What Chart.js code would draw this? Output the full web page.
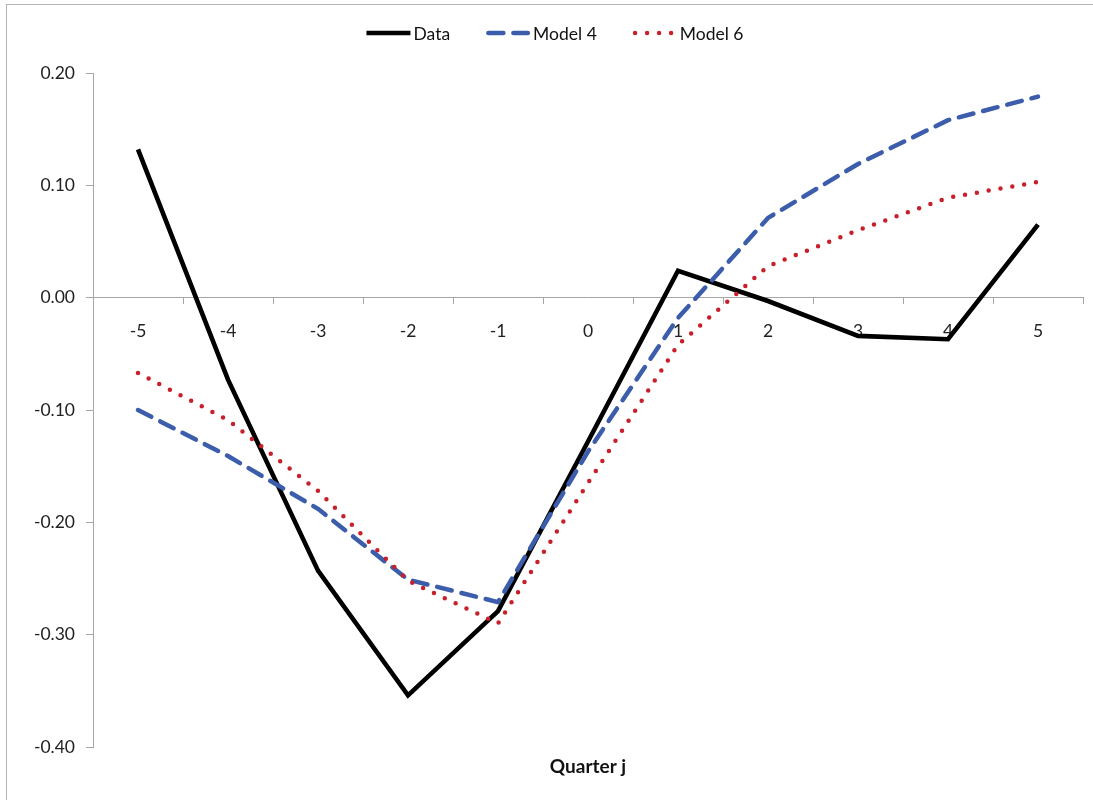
<!DOCTYPE html>
<html>
<head>
<meta charset="utf-8">
<script src="https://cdn.jsdelivr.net/npm/chart.js@4/dist/chart.umd.min.js"></script>
<style>
  html, body { margin: 0; padding: 0; background: #ffffff; }
  #wrap { position: relative; width: 1093px; height: 800px; }
  #frame { position: absolute; left: 6px; top: 4px; right: -2px; bottom: -2px;
           border-left: 1px solid #b4b4b4; border-top: 1px solid #b4b4b4; pointer-events: none; }
  canvas { position: absolute; left: 0; top: 0; }
</style>
</head>
<body>
<div id="wrap">
  <canvas id="chart" width="1093" height="800"></canvas>
  <div id="frame"></div>
</div>
<script>
// Quarter offsets relative to the event quarter
const quarters = ['-5', '-4', '-3', '-2', '-1', '0', '1', '2', '3', '4', '5'];

// Observed response and two model fits
const dataValues   = [0.132, -0.073, -0.243, -0.354, -0.279, -0.128, 0.024, -0.003, -0.034, -0.037, 0.065];
const model4Values = [-0.100, -0.141, -0.188, -0.251, -0.271, -0.137, -0.018, 0.071, 0.119, 0.158, 0.179];
const model6Values = [-0.067, -0.109, -0.172, -0.252, -0.290, -0.165, -0.042, 0.028, 0.060, 0.089, 0.103];

// Value axis ticks
const yTicks = [-0.4, -0.3, -0.2, -0.1, 0.0, 0.1, 0.2];

const seriesNames = ['Data', 'Model 4', 'Model 6'];
const axisTitle = 'Quarter j';

const FONT = 'Lato, "Open Sans", "DejaVu Sans", sans-serif';
const AXIS_GREY = '#a6a6a6';

// Legend drawn along the top, one line sample per series
const topLegend = {
  id: 'topLegend',
  afterDraw(chart) {
    const ctx = chart.ctx;
    ctx.save();
    ctx.font = '17.5px ' + FONT;
    ctx.textBaseline = 'middle';
    ctx.fillStyle = '#111';
    const y = 33;
    const sample = 44, gap = 3, itemGap = 36;
    const items = chart.data.datasets.map(ds => ({ ds, w: ctx.measureText(ds.label).width }));
    const total = items.reduce((s, it) => s + sample + gap + it.w, 0) + itemGap * (items.length - 1);
    let x = 555 - total / 2;
    items.forEach(({ ds, w }) => {
      ctx.save();
      ctx.strokeStyle = ds.borderColor;
      ctx.lineWidth = ds.borderWidth;
      ctx.lineCap = ds.borderCapStyle || 'butt';
      ctx.setLineDash(ds.borderDash || []);
      ctx.beginPath();
      const inset = ds.borderCapStyle === 'round' ? ds.borderWidth / 2 : 0;
      ctx.moveTo(x + inset, y);
      ctx.lineTo(x + sample - inset, y);
      ctx.stroke();
      ctx.restore();
      ctx.fillText(ds.label, x + sample + gap, y + 1);
      x += sample + gap + w + itemGap;
    });
    ctx.restore();
  }
};

// Horizontal axis title centred under the plot area
const bottomTitle = {
  id: 'bottomTitle',
  afterDraw(chart) {
    const { ctx, chartArea } = chart;
    ctx.save();
    ctx.font = 'bold 19px ' + FONT;
    ctx.fillStyle = '#111';
    ctx.textAlign = 'center';
    ctx.textBaseline = 'middle';
    ctx.fillText(axisTitle, (chartArea.left + chartArea.right) / 2, 767);
    ctx.restore();
  }
};

new Chart(document.getElementById('chart'), {
  type: 'line',
  data: {
    labels: quarters,
    datasets: [
      {
        label: seriesNames[0],
        data: dataValues,
        borderColor: '#000000',
        borderWidth: 4.6,
        borderCapStyle: 'butt',
        order: 3
      },
      {
        label: seriesNames[1],
        data: model4Values,
        borderColor: '#3c5dab',
        borderWidth: 4.5,
        borderDash: [15, 10],
        borderCapStyle: 'round',
        order: 2
      },
      {
        label: seriesNames[2],
        data: model6Values,
        borderColor: '#c8202b',
        borderWidth: 4.5,
        borderDash: [0, 12],
        borderCapStyle: 'round',
        order: 1
      }
    ]
  },
  options: {
    responsive: false,
    animation: false,
    devicePixelRatio: 1,
    layout: { padding: { top: 73, right: 10, bottom: 53, left: 0 } },
    elements: {
      point: { radius: 0, hoverRadius: 0 },
      line: { tension: 0, fill: false }
    },
    plugins: {
      legend: { display: false },
      tooltip: { enabled: false },
      title: { display: false }
    },
    scales: {
      x: {
        type: 'category',
        position: { y: 0 },
        offset: true,
        grid: {
          offset: true,
          drawOnChartArea: false,
          drawTicks: true,
          tickLength: 6,
          color: AXIS_GREY,
          lineWidth: 1
        },
        border: { display: true, color: AXIS_GREY, width: 1 },
        ticks: {
          color: '#222',
          font: { family: FONT, size: 17.5 },
          padding: 17,
          maxRotation: 0,
          autoSkip: false
        }
      },
      y: {
        min: yTicks[0],
        max: yTicks[yTicks.length - 1],
        afterFit(scale) { scale.width = 93; },
        afterBuildTicks(scale) { scale.ticks = yTicks.map(v => ({ value: v })); },
        grid: {
          drawOnChartArea: false,
          drawTicks: true,
          tickLength: 7,
          color: AXIS_GREY,
          lineWidth: 1
        },
        border: { display: true, color: AXIS_GREY, width: 1 },
        ticks: {
          color: '#222',
          font: { family: FONT, size: 17.5 },
          padding: 11,
          callback(v) { return (Math.abs(v) < 1e-9 ? 0 : v).toFixed(2); }
        }
      }
    }
  },
  plugins: [topLegend, bottomTitle]
});
</script>
</body>
</html>
